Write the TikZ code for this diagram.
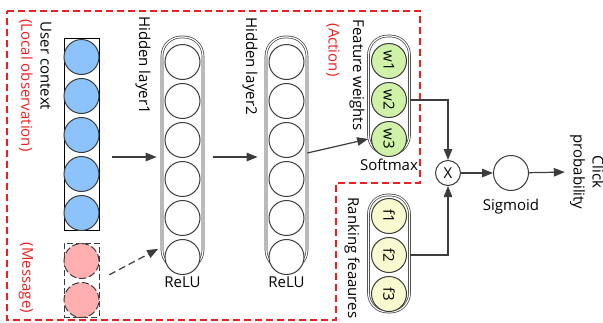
\documentclass[tikz,border=0pt]{standalone}
\usepackage{fontspec}
\setmainfont{Open Sans}
\usetikzlibrary{arrows.meta, positioning, calc}

\definecolor{inblue}{RGB}{140,195,250}
\definecolor{msgpink}{RGB}{255,175,175}
\definecolor{wgreen}{RGB}{208,242,168}
\definecolor{fyellow}{RGB}{250,250,208}
\definecolor{linegray}{RGB}{60,60,60}
\definecolor{boxred}{RGB}{240,30,30}

\begin{document}
\begin{tikzpicture}[
	x=1pt, y=-1pt,
	every node/.style={font=\fontsize{15}{19}\selectfont},
	unit/.style={
		circle, draw=linegray, line width=1pt, fill=white,
		minimum size=35pt, inner sep=0pt
	},
	column/.style={
		rectangle, draw=linegray, line width=.7pt, double, double distance=1.2pt,
		rounded corners=19pt, minimum width=41pt
	},
	inbox/.style={rectangle, draw=black, line width=1pt, minimum width=35pt},
	vlabel/.style={rotate=-90, inner sep=0pt},
	redlabel/.style={vlabel, text=boxred},
	arrow/.style={-{Triangle[length=11pt, width=8.5pt]}, line width=1.2pt, draw=linegray},
	reddash/.style={draw=boxred, line width=1.2pt, dash pattern=on 7pt off 4pt}
	]
	\useasboundingbox (0,0) rectangle (603,322);
	
	% Red dashed region
	\draw[reddash] (7,11) -- (420,11) -- (420,183) -- (336,183) -- (336,320) -- (7,320) -- cycle;
	
	% Input
	\node[inbox, minimum height=192pt] (input) at (81.5,134) {};
	\node[unit, fill=inblue] (x1) at (81.5,57) {};
	\node[unit, fill=inblue, below=3pt of x1] (x2) {};
	\node[unit, fill=inblue, below=3pt of x2] (x3) {};
	\node[unit, fill=inblue, below=3pt of x3] (x4) {};
	\node[unit, fill=inblue, below=3pt of x4] (x5) {};
	\node[inbox, draw=linegray, dash pattern=on 6pt off 3pt, minimum height=74pt] (message) at (81.5,280) {};
	\node[unit, dash pattern=on 7pt off 3pt, fill=msgpink] (m1) at (81.5,261) {};
	\node[unit, dash pattern=on 7pt off 3pt, fill=msgpink, below=3pt of m1] (m2) {};
	\node[vlabel] (userctx) at (46,66) {User context};
	\node[redlabel] (localobs) at (26,85.5) {(Local observation)};
	\node[redlabel] (msglabel) at (26,278) {(Message)};
	
	% Hidden layers
	\node[column, minimum height=232pt] (hidden1) at (182.5,153) {};
	\node[unit] (a1) at (182.5,62) {};
	\node[unit, below=3pt of a1] (a2) {};
	\node[unit, below=3pt of a2] (a3) {};
	\node[unit, below=3pt of a3] (a4) {};
	\node[unit, below=3pt of a4] (a5) {};
	\node[unit, below=3pt of a5] (a6) {};
	\node[vlabel] (h1label) at (143,65) {Hidden layer1};
	\node[below=4pt of hidden1] (relu1) {ReLU};
	
	\node[column, minimum height=232pt] (hidden2) at (286.5,153) {};
	\node[unit] (b1) at (286.5,62) {};
	\node[unit, below=3pt of b1] (b2) {};
	\node[unit, below=3pt of b2] (b3) {};
	\node[unit, below=3pt of b3] (b4) {};
	\node[unit, below=3pt of b4] (b5) {};
	\node[unit, below=3pt of b5] (b6) {};
	\node[vlabel] (h2label) at (250,66) {Hidden layer2};
	\node[below=4pt of hidden2] (relu2) {ReLU};
	
	% Feature weights
	\node[column, minimum height=118pt] (weights) at (389,95) {};
	\node[unit, fill=wgreen] (w1) at (389,61) {\rotatebox{-90}{w1}};
	\node[unit, fill=wgreen, below=3pt of w1] (w2) {\rotatebox{-90}{w2}};
	\node[unit, fill=wgreen, below=3pt of w2] (w3) {\rotatebox{-90}{w3}};
	\node[vlabel] (fwlabel) at (357,75) {Feature weights};
	\node[redlabel] (action) at (333,50) {(Action)};
	\node[below=1pt of weights] (softmax) {Softmax};
	
	% Ranking features
	\node[column, minimum height=117pt] (ranking) at (389,253.5) {};
	\node[unit, fill=fyellow] (f1) at (389,216) {\rotatebox{-90}{f1}};
	\node[unit, fill=fyellow, below=3pt of f1] (f2) {\rotatebox{-90}{f2}};
	\node[unit, fill=fyellow, below=3pt of f2] (f3) {\rotatebox{-90}{f3}};
	\node[vlabel] (rflabel) at (352,258) {Ranking feaaures};
	
	% Output
	\node[unit, minimum size=25pt] (mul) at (448,173) {X};
	\node[unit] (sigmoid) at (511,173) {};
	\node[below=5pt of sigmoid] (siglabel) {Sigmoid};
	\node[vlabel, align=center] (click) at (587,172) {Click\\probability};
	
	% Arrows
	\coordinate (in1) at ([yshift=-4pt]hidden1.west);
	\draw[arrow, shorten <=12pt, shorten >=5pt] (input.east |- in1) -- (in1);
	\coordinate (in2) at ([yshift=10pt]hidden1.west |- a6);
	\draw[arrow, dash pattern=on 7pt off 4pt, shorten <=11pt, shorten >=4pt] (message.east) -- (in2);
	\coordinate (in3) at ([yshift=-4pt]hidden2.west);
	\draw[arrow, shorten <=10pt, shorten >=8pt] (hidden1.east |- in3) -- (in3);
	\draw[arrow] (hidden2.east) -- (weights.west |- w3);
	\draw[arrow] (weights.east |- w2) -| (mul);
	\draw[arrow] (ranking.east |- f2) -| (mul);
	\draw[arrow] (mul) -- (sigmoid);
	\draw[arrow, shorten >=5pt] (sigmoid) -- (click.south);
\end{tikzpicture}
\end{document}
